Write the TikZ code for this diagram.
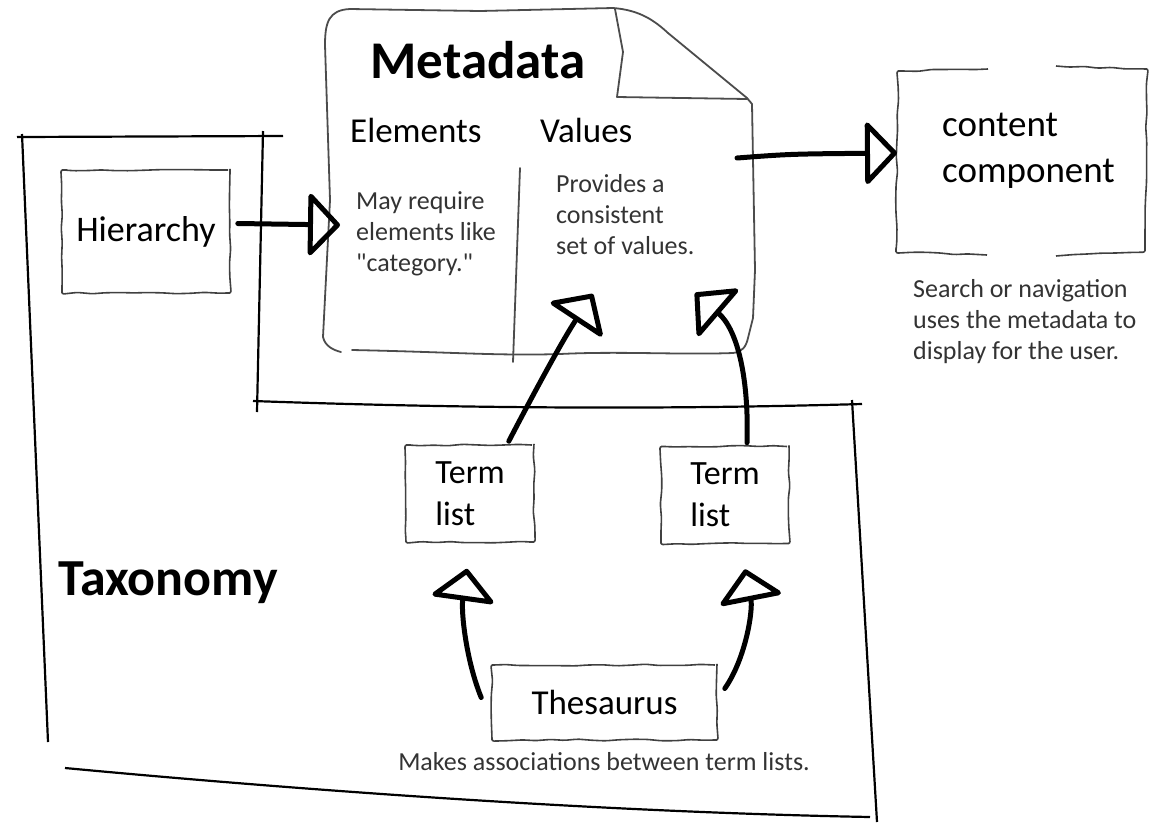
\documentclass[tikz,border=0pt]{standalone}
\usepackage{fontspec}
\setmainfont{Carlito}[Ligatures=TeXOff]
\usetikzlibrary{arrows.meta,decorations.pathmorphing}

\begin{document}
\begin{tikzpicture}[x=1pt, y=-1pt,
    sketch/.style={draw=black!75, line width=1.6pt, decorate,
      decoration={random steps, segment length=14pt, amplitude=0.9pt}, rounded corners=2pt},
    docline/.style={draw=black!70, line width=1.8pt, line join=round, line cap=round},
    taxline/.style={draw=black, line width=2.2pt},
    bigarrow/.style={line width=5pt, line cap=round,
      -{Triangle[open, round, length=33pt, width=68pt, line width=5pt]}},
    heading/.style={inner sep=0pt, anchor=west, font=\fontsize{35}{42}\selectfont},
    note/.style={inner sep=0pt, align=left, text=black!80, font=\fontsize{26}{31}\selectfont},
    termbox/.style={sketch, minimum width=128, minimum height=97, align=left,
      font=\fontsize{34}{42}\selectfont}]
    \useasboundingbox (0,0) rectangle (1152,823);
    \pgfmathsetseed{11}

    \node[font=\bfseries\fontsize{53}{60}\selectfont, inner sep=0pt] (metaTitle) at (478,60) {Metadata};
    \node[heading] (elemHead) at (350,130) {Elements};
    \node[heading] (valHead) at (540,130) {Values};
    \node[note, anchor=west] (elemNote) at (356,234) {May require\\elements like\\"category."};
    \node[note, anchor=west] (valNote) at (556,215) {Provides a\\consistent\\set of values.};

    \node[sketch, minimum width=168, minimum height=123, font=\fontsize{36}{40}\selectfont] (hier) at (146,231.5) {Hierarchy};
    \node[termbox] (term1) at (470,493.5) {Term\\list};
    \node[termbox] (term2) at (725,495) {Term\\list};
    \node[sketch, minimum width=225, minimum height=75, font=\fontsize{35}{40}\selectfont] (thes) at (604.5,702.5) {Thesaurus};
    \node[note] (thesNote) at (604,762) {Makes associations between term lists.};
    \node[font=\bfseries\fontsize{52}{60}\selectfont, anchor=west, inner sep=0pt] (taxTitle) at (58,583) {Taxonomy};

    \node[align=left, anchor=west, inner sep=0pt, font=\fontsize{37}{46}\selectfont] (content) at (942,151) {content\\component};
    \node[note, anchor=west] (contNote) at (913,322) {Search or navigation\\uses the metadata to\\display for the user.};

    % metadata sheet
    \draw[docline] (613,8) -- (480,11) -- (350,9) .. controls (329,10) and (325,22) .. (325,45)
      -- (330,200) -- (323,337) .. controls (325,346) and (333,350) .. (341,352);
    \draw[docline] (352,350) .. controls (450,352) and (500,356) .. (560,354)
      .. controls (620,351) and (680,355) .. (733,353) .. controls (742,352) and (746,347) .. (748,338)
      -- (753,318) -- (755,270) -- (752,104) -- (747,98);
    \draw[docline] (613,8) .. controls (640,10) and (655,21) .. (668,33) -- (747,98);
    \draw[docline] (615,9) -- (623,52) -- (617,97) -- (747,99);
    \draw[docline] (520,168) -- (513,362);

    % content component
    \draw[sketch] (988,69) -- (898,71) -- (896,252) -- (987,255);
    \draw[sketch] (1056,66) -- (1147,69) -- (1145,251) -- (1056,256);

    % taxonomy
    \draw[taxline] (17,137) -- (283,136);
    \draw[taxline] (263,131) -- (257,412);
    \draw[taxline] (22,134) -- (48,742);
    \draw[taxline] (253,401) .. controls (450,408) and (650,410) .. (862,404);
    \draw[taxline] (852,400) -- (877,822);
    \draw[taxline] (65,768) .. controls (300,790) and (600,812) .. (870,817);

    \coordinate (elemIn) at (340,225);
    \coordinate (valOut) at (737,158);
    \coordinate (contIn) at (897,153);
    \coordinate (valIn1) at (593,294);
    \coordinate (valIn2) at (695,293);

    \draw[bigarrow] ([xshift=7pt, yshift=8pt]hier.east) -- (elemIn);
    \draw[bigarrow] (valOut) .. controls (790,154) .. (contIn);
    \draw[bigarrow] ([xshift=-26pt, yshift=3pt]term1.north east) .. controls (525,410) and (560,344) .. (valIn1);
    \draw[bigarrow] ([xshift=22pt, yshift=3pt]term2.north) .. controls (749,380) and (738,330) .. (valIn2);
    \draw[bigarrow] ([xshift=-10pt, yshift=5pt]thes.west) .. controls (466,660) and (461,612) .. ([xshift=-3pt, yshift=-26pt]term1.south);
    \draw[bigarrow] ([xshift=7pt, yshift=14pt]thes.east) .. controls (746,658) and (753,610) .. ([xshift=20pt, yshift=-25pt]term2.south);
\end{tikzpicture}
\end{document}
